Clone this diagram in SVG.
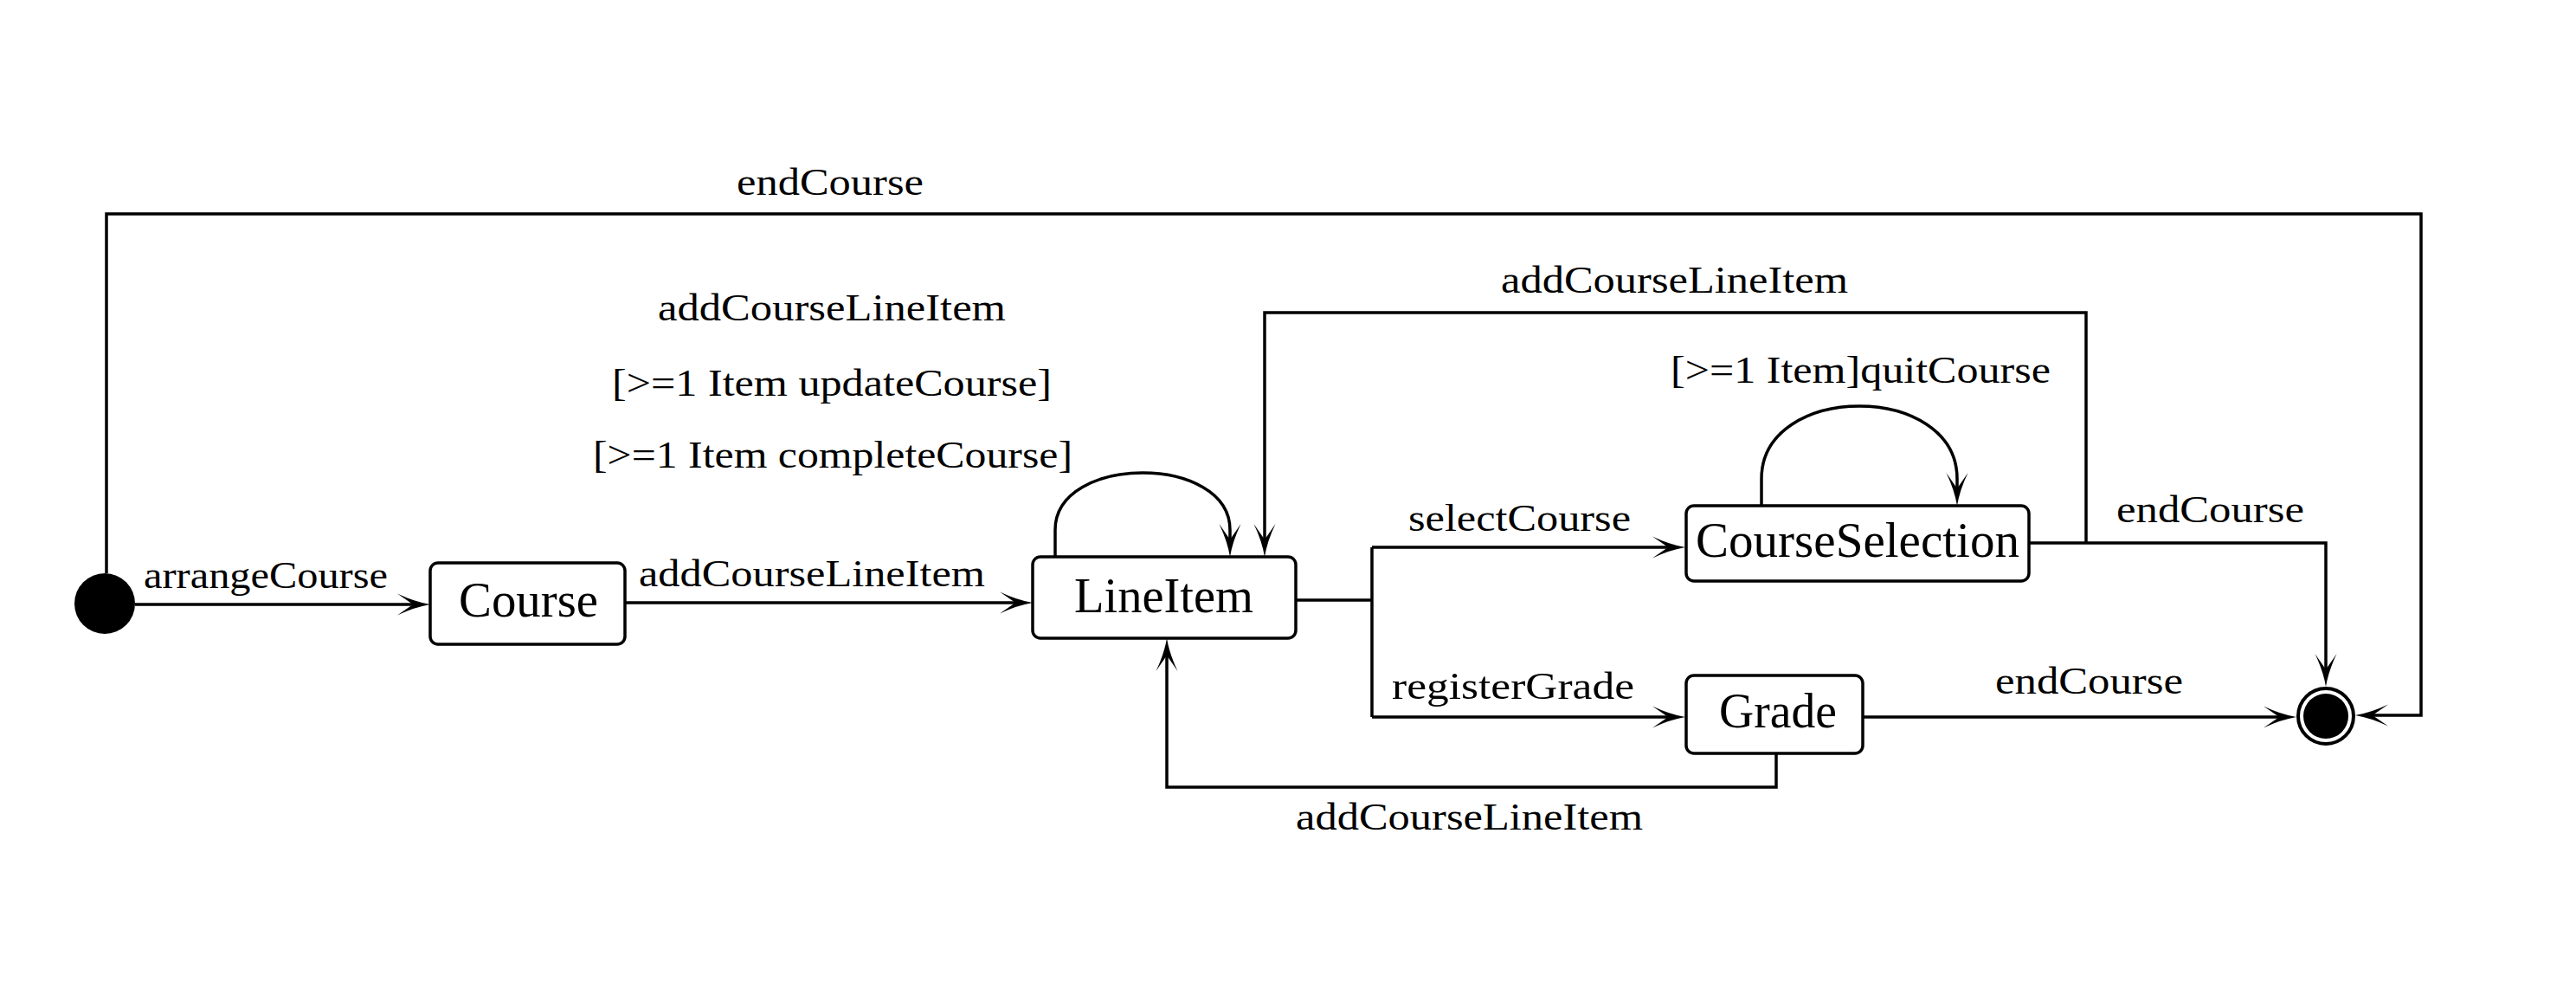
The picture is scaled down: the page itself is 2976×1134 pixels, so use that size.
<svg xmlns="http://www.w3.org/2000/svg" width="2976" height="1134" viewBox="0 0 2976 1134">
  <style>
    .node { fill: #ffffff; stroke: #000000; stroke-width: 3.5; }
    .edge { fill: none; stroke: #000000; stroke-width: 3.5; stroke-linejoin: miter; }
    .lbl { font-family: "Liberation Serif", "Times New Roman", serif; font-size: 45px; fill: #000000; }
    .ntxt { font-family: "Liberation Serif", "Times New Roman", serif; font-size: 56px; fill: #000000; }
  </style>
  <defs>
    <marker id="arr" viewBox="-40 -15 42 30" markerWidth="42" markerHeight="30" refX="-20" refY="0" orient="auto" markerUnits="userSpaceOnUse">
      <path d="M0,0 Q-18,-3 -38,-12.5 Q-27,-5 -20,0 Q-27,5 -38,12.5 Q-18,3 0,0 Z" fill="#000000"/>
    </marker>
  </defs>
  <rect width="2976" height="1134" fill="#ffffff"/>

  <g id="connectors">
    <path class="edge" d="M156,698 H477" marker-end="url(#arr)"/>
    <path class="edge" d="M722,696 H1173" marker-end="url(#arr)"/>
    <path class="edge" d="M1219,643 V612 C1219,524 1421,524 1421,612 V623" marker-end="url(#arr)"/>
    <path class="edge" d="M2410,627 V361 H1461 V623" marker-end="url(#arr)"/>
    <path class="edge" d="M2344,627 H2687 V773" marker-end="url(#arr)"/>
    <path class="edge" d="M1497,693 H1585 M1585,632 V828"/>
    <path class="edge" d="M1585,632 H1927" marker-end="url(#arr)"/>
    <path class="edge" d="M1585,828 H1927" marker-end="url(#arr)"/>
    <path class="edge" d="M2052,870 V909 H1348 V757" marker-end="url(#arr)"/>
    <path class="edge" d="M2152,828 H2633" marker-end="url(#arr)"/>
    <path class="edge" d="M123,662 V247 H2797 V826 H2741" marker-end="url(#arr)"/>
    <path class="edge" d="M2035,584 V553 C2035,441 2261,441 2261,553 V564" marker-end="url(#arr)"/>
  </g>

  <g id="labels">
    <text class="lbl" x="851" y="225" textLength="216" lengthAdjust="spacingAndGlyphs">endCourse</text>
    <text class="lbl" x="760" y="370" textLength="402" lengthAdjust="spacingAndGlyphs">addCourseLineItem</text>
    <text class="lbl" x="707" y="457" textLength="508" lengthAdjust="spacingAndGlyphs">[&gt;=1 Item updateCourse]</text>
    <text class="lbl" x="685" y="540" textLength="554" lengthAdjust="spacingAndGlyphs">[&gt;=1 Item completeCourse]</text>
    <text class="lbl" x="166" y="679" textLength="282" lengthAdjust="spacingAndGlyphs">arrangeCourse</text>
    <text class="lbl" x="738" y="677" textLength="400" lengthAdjust="spacingAndGlyphs">addCourseLineItem</text>
    <text class="lbl" x="1734" y="338" textLength="401" lengthAdjust="spacingAndGlyphs">addCourseLineItem</text>
    <text class="lbl" x="1930" y="442" textLength="439" lengthAdjust="spacingAndGlyphs">[&gt;=1 Item]quitCourse</text>
    <text class="lbl" x="1627" y="613" textLength="257" lengthAdjust="spacingAndGlyphs">selectCourse</text>
    <text class="lbl" x="1608" y="807" textLength="280" lengthAdjust="spacingAndGlyphs">registerGrade</text>
    <text class="lbl" x="1497" y="958" textLength="401" lengthAdjust="spacingAndGlyphs">addCourseLineItem</text>
    <text class="lbl" x="2445" y="603" textLength="217" lengthAdjust="spacingAndGlyphs">endCourse</text>
    <text class="lbl" x="2305" y="801" textLength="217" lengthAdjust="spacingAndGlyphs">endCourse</text>
  </g>

  <g id="initial">
    <circle cx="121" cy="697" r="35" fill="#000000"/>
  </g>

  <g id="node-course">
    <rect class="node" x="497" y="650" width="225" height="94" rx="9"/>
    <text class="ntxt" x="530" y="712" textLength="161" lengthAdjust="spacingAndGlyphs">Course</text>
  </g>

  <g id="node-lineitem">
    <rect class="node" x="1193" y="643" width="304" height="94" rx="9"/>
    <text class="ntxt" x="1241" y="707" textLength="207" lengthAdjust="spacingAndGlyphs">LineItem</text>
  </g>

  <g id="node-courseselection">
    <rect class="node" x="1948" y="584" width="396" height="87" rx="9"/>
    <text class="ntxt" x="1959" y="643" textLength="374" lengthAdjust="spacingAndGlyphs">CourseSelection</text>
  </g>

  <g id="node-grade">
    <rect class="node" x="1948" y="780" width="204" height="90" rx="9"/>
    <text class="ntxt" x="1986" y="840" textLength="136" lengthAdjust="spacingAndGlyphs">Grade</text>
  </g>

  <g id="final">
    <circle cx="2687" cy="827" r="32" fill="#ffffff" stroke="#000000" stroke-width="4"/>
    <circle cx="2687" cy="827" r="26" fill="#000000"/>
  </g>
</svg>
